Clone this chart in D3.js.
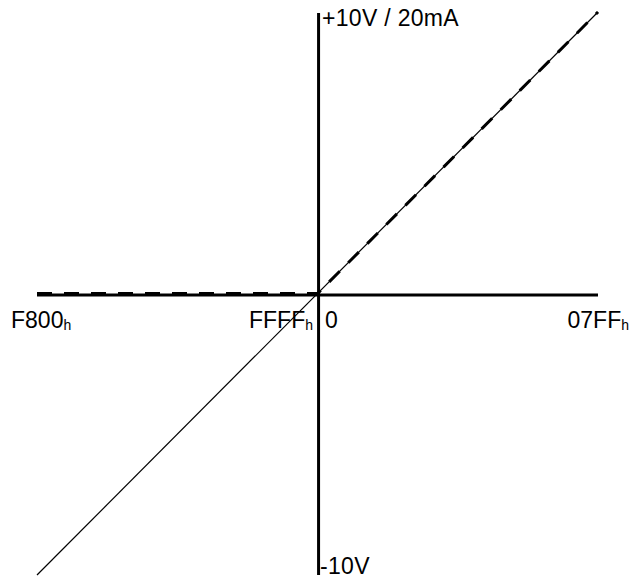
<!DOCTYPE html>
<html><head><meta charset="utf-8">
<script src="https://cdn.jsdelivr.net/npm/d3@7"></script>
<style>body{margin:0;background:#fff}svg{display:block}text{font-family:"Liberation Sans",Arial,sans-serif;fill:#000}</style>
</head><body>
<svg id="c" width="638" height="578"></svg>
<script>
// Data
const codes = [-2048, -1, 0, 2047];           // F800h, FFFFh, 0, 07FFh
const voltageOut = [-10, 0, 0, 10];            // solid line: ±10V
const currentOut = [0, 0, 0, 10];              // dashed line: 0..20mA (scaled to top)
const xLabels = [
  {code: -2048, main: "F800", sub: "h", anchor: "start"},
  {code: -1, main: "FFFF", sub: "h", anchor: "end"},
  {code: 0, main: "0", sub: "", anchor: "start"},
  {code: 2047, main: "07FF", sub: "h", anchor: "end"}
];
const yLabels = [{v: 10, t: "+10V / 20mA"}, {v: -10, t: "-10V"}];

const svg = d3.select("#c");
const x = d3.scaleLinear().domain([-2048, 2047]).range([37, 598]);
const y = d3.scaleLinear().domain([-10, 10]).range([575, 12]);

// axes
svg.append("line").attr("x1", x(-2048)).attr("x2", x(2047)).attr("y1", y(0)+1.5).attr("y2", y(0)+1.5)
  .attr("stroke", "#000").attr("stroke-width", 3);
svg.append("line").attr("x1", x(0)+1).attr("x2", x(0)+1).attr("y1", y(10)+1).attr("y2", y(-10))
  .attr("stroke", "#000").attr("stroke-width", 3);

// solid voltage line
const solidPts = [[codes[0], voltageOut[0]], [codes[3], voltageOut[3]]];
svg.append("path").attr("d", d3.line().x(d => x(d[0])).y(d => y(d[1]))(solidPts))
  .attr("fill", "none").attr("stroke", "#000").attr("stroke-width", 1.2);

// dashed current line
const dashPts = codes.map((c, i) => [c, currentOut[i]]).filter((d, i) => i !== 1);
svg.append("path").attr("d", d3.line().x(d => x(d[0])).y(d => y(d[1]))(dashPts))
  .attr("fill", "none").attr("stroke", "#000").attr("stroke-width", 3).attr("stroke-dasharray", "15,12");

// x labels
const xl = svg.selectAll("text.xl").data(xLabels).join("text").attr("class", "xl")
  .attr("font-size", 23)
  .attr("x", d => d.code === -2048 ? 11 : d.code === -1 ? 313 : d.code === 0 ? 325 : 629)
  .attr("y", 328).attr("text-anchor", d => d.anchor);
xl.append("tspan").text(d => d.main);
xl.append("tspan").attr("font-size", 14).attr("dy", 1.5).text(d => d.sub);

// y labels
svg.selectAll("text.yl").data(yLabels).join("text").attr("class", "yl")
  .attr("font-size", 23).attr("letter-spacing", 0.3).attr("x", d => d.v > 0 ? 322 : 320)
  .attr("y", d => d.v > 0 ? 26 : 574).text(d => d.t);
</script>
</body></html>
